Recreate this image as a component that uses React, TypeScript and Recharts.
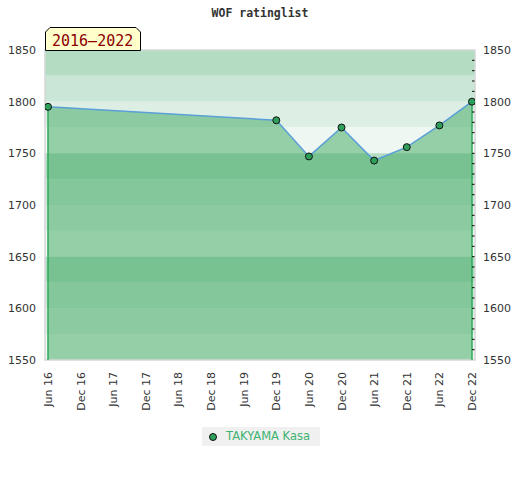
import React from 'react';
import { ComposedChart, Area, Line, XAxis, YAxis, ReferenceArea, ReferenceLine, Legend } from 'recharts';

const months = ['Jun 16', 'Dec 16', 'Jun 17', 'Dec 17', 'Jun 18', 'Dec 18', 'Jun 19', 'Dec 19', 'Jun 20', 'Dec 20', 'Jun 21', 'Dec 21', 'Jun 22', 'Dec 22'];
const ratings: (number | null)[] = [1795, null, null, null, null, null, null, 1782, 1747, 1775, 1743, 1756, 1777, 1800];
const seriesName = 'TAKYAMA Kasa';
const title = 'WOF ratinglist';
const periodLabel = '2016\u20132022';
const yDomain: [number, number] = [1550, 1850];
const majorTicks = [1550, 1600, 1650, 1700, 1750, 1800, 1850];
const minorTicks = [1560, 1570, 1580, 1590, 1600, 1610, 1620, 1630, 1640, 1650, 1660, 1670, 1680, 1690, 1700, 1710, 1720, 1730, 1740, 1750, 1760, 1770, 1780, 1790, 1800, 1810, 1820, 1830, 1840];
const rightLabelTicks = [1550, 1600, 1650, 1700, 1750, 1800, 1850];
const bandLows = [1825, 1800, 1775, 1750, 1725, 1700, 1675, 1650, 1625, 1600, 1575, 1550];
const bandHighs = [1850, 1825, 1800, 1775, 1750, 1725, 1700, 1675, 1650, 1625, 1600, 1575];
const bandColors = ['#b3dcc3', '#cae6d6', '#ddeee4', '#eef7f1', '#b3dcc3', '#cae6d6', '#ddeee4', '#eef7f1', '#b3dcc3', '#cae6d6', '#ddeee4', '#eef7f1'];

const data = months.map((m, i) => ({ idx: i, month: m, rating: ratings[i] }));
const xTicks = months.map((_, i) => i);
const edgePad = 0.092;
const xDomain: [number, number] = [-edgePad, months.length - 1 + edgePad];

const FONT = '"DejaVu Sans", sans-serif';

const LeftTick = (props: any) => {
  const { x, y, payload } = props;
  return (
    <text x={x - 9} y={y} dy={4} textAnchor="end" fontFamily={FONT} fontSize={11} fill="#333">
      {payload.value}
    </text>
  );
};

const RightTick = (props: any) => {
  const { x, y, payload } = props;
  return (
    <text x={x + 8} y={y} dy={4} textAnchor="start" fontFamily={FONT} fontSize={11} fill="#333">
      {payload.value}
    </text>
  );
};

const BottomTick = (props: any) => {
  const { x, y, payload } = props;
  return (
    <text transform={`translate(${x},${y + 12}) rotate(-90)`} x={0} y={0} dy={4} textAnchor="end" fontFamily={FONT} fontSize={11} fill="#333">
      {months[payload.value]}
    </text>
  );
};

const LegendContent = () => (
  <div style={{ width: 118, height: 19, background: '#f0f0f0', display: 'flex', alignItems: 'center', boxSizing: 'border-box', paddingLeft: 6 }}>
    <svg width={10} height={10} style={{ display: 'block' }}>
      <circle cx={5} cy={5} r={3.5} fill="#2e9e5b" stroke="#111" strokeWidth={1} />
    </svg>
    <span style={{ marginLeft: 8, fontFamily: FONT, fontSize: 11.5, color: '#3cb371', lineHeight: '19px' }}>{seriesName}</span>
  </div>
);

export default function App() {
  return (
    <div style={{ position: 'absolute', left: 0, top: 0, width: 520, height: 480, background: '#fff' }}>
      <ComposedChart width={520} height={480} data={data} margin={{ top: 50, right: 0, bottom: 60, left: 0 }}>
        <XAxis
          dataKey="idx"
          type="number"
          domain={xDomain}
          ticks={xTicks}
          interval={0}
          allowDataOverflow
          tickLine={false}
          axisLine={false}
          tickSize={0}
          tickMargin={0}
          height={60}
          tick={<BottomTick />}
        />
        <YAxis
          yAxisId="left"
          orientation="left"
          domain={yDomain}
          ticks={majorTicks}
          width={45}
          axisLine={false}
          tickLine={false}
          tickSize={0}
          tickMargin={0}
          tick={<LeftTick />}
          allowDataOverflow
        />
        <YAxis
          yAxisId="right"
          orientation="right"
          domain={yDomain}
          ticks={rightLabelTicks}
          interval={0}
          width={45}
          axisLine={false}
          tickLine={false}
          tickSize={0}
          tickMargin={0}
          tick={<RightTick />}
          allowDataOverflow
        />
        {bandLows.map((lo, i) => (
          <ReferenceArea key={i} yAxisId="left" y1={lo} y2={bandHighs[i]} fill={bandColors[i]} fillOpacity={1} stroke="none" ifOverflow="hidden" />
        ))}
        <Area
          yAxisId="left"
          type="linear"
          dataKey="rating"
          fill="#3ca85e"
          fillOpacity={0.5}
          stroke="none"
          connectNulls
          isAnimationActive={false}
          legendType="none"
          dot={false}
          activeDot={false}
        />
        <ReferenceLine
          yAxisId="left"
          segment={[{ x: 0, y: yDomain[0] }, { x: 0, y: ratings[0] as number }]}
          stroke="#2eaa5c"
          strokeWidth={1.5}
        />
        <ReferenceLine
          yAxisId="left"
          segment={[{ x: months.length - 1, y: yDomain[0] }, { x: months.length - 1, y: ratings[ratings.length - 1] as number }]}
          stroke="#2eaa5c"
          strokeWidth={1.5}
        />
        {minorTicks.map((t) => (
          <ReferenceLine
            key={`m${t}`}
            yAxisId="left"
            segment={[{ x: xDomain[1] - 0.09, y: t }, { x: xDomain[1] - 0.015, y: t }]}
            stroke="#000"
            strokeWidth={1}
          />
        ))}
        <ReferenceArea yAxisId="left" y1={yDomain[0]} y2={yDomain[1]} fill="none" stroke="#d6d6d6" strokeWidth={1.5} />
        <Line
          yAxisId="left"
          type="linear"
          dataKey="rating"
          name={seriesName}
          stroke="#5a9fd8"
          strokeWidth={1.5}
          connectNulls
          isAnimationActive={false}
          dot={{ r: 3.5, fill: '#2e9e5b', stroke: '#111', strokeWidth: 1 }}
          activeDot={false}
        />
        <Legend
          layout="horizontal"
          verticalAlign="middle"
          align="center"
          content={<LegendContent />}
          wrapperStyle={{ position: 'absolute', left: 202, top: 427, width: 118, height: 19, margin: 0 }}
        />
      </ComposedChart>
      <svg width={520} height={480} style={{ position: 'absolute', left: 0, top: 0, pointerEvents: 'none' }}>
        <text x={260} y={17} textAnchor="middle" fontFamily='"DejaVu Sans Mono", monospace' fontWeight="bold" fontSize={11.5} fill="#333">
          {title}
        </text>
        <polygon points="45.5,32 50,27.5 136,27.5 140.5,32 140.5,50.5 45.5,50.5" fill="#ffffcc" stroke="#000" strokeWidth={1} />
        <text x={52} y={46} fontFamily='"DejaVu Sans Mono", monospace' fontSize={15} fill="#8b0000">
          {periodLabel}
        </text>
      </svg>
    </div>
  );
}
